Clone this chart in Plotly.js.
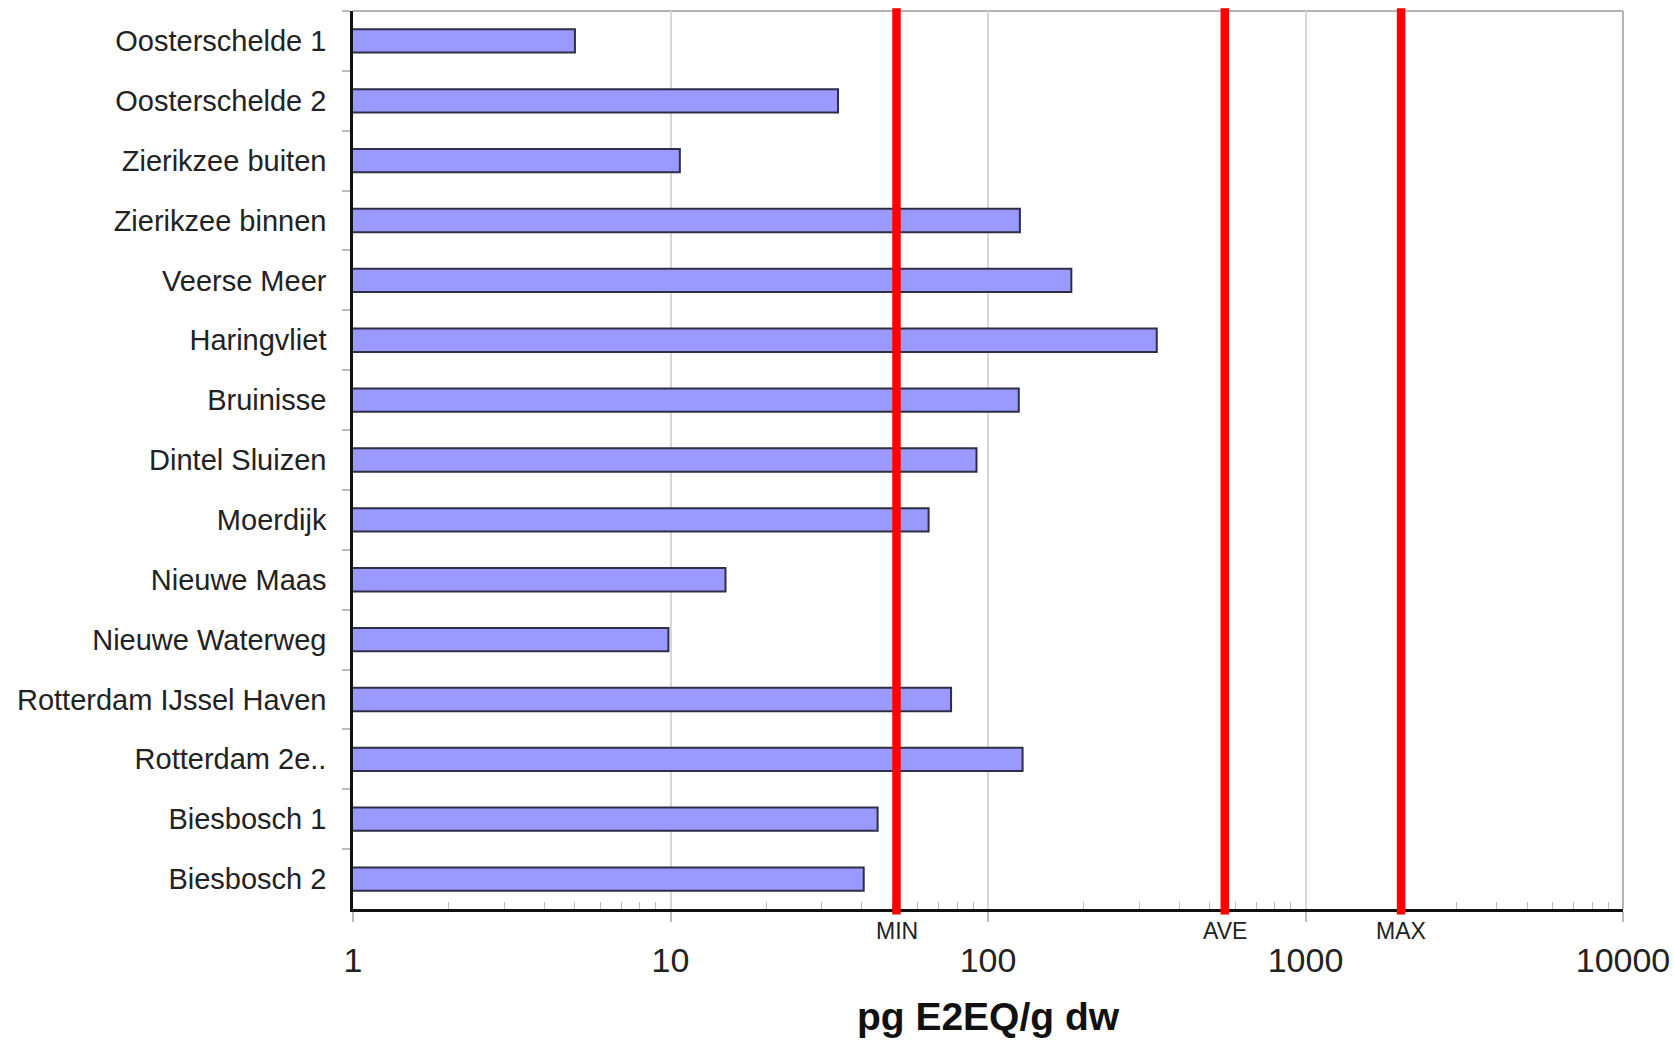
<!DOCTYPE html>
<html>
<head>
<meta charset="utf-8">
<script src="https://cdn.plot.ly/plotly-3.0.1.min.js"></script>
<style>
  html, body { margin: 0; padding: 0; background: #ffffff; }
  #chart { width: 1674px; height: 1040px; }
</style>
</head>
<body>
<div id="chart"></div>
<script>
// ---- data ----
const sites = [
  "Oosterschelde 1", "Oosterschelde 2", "Zierikzee buiten", "Zierikzee binnen",
  "Veerse Meer", "Haringvliet", "Bruinisse", "Dintel Sluizen", "Moerdijk",
  "Nieuwe Maas", "Nieuwe Waterweg", "Rotterdam IJssel Haven", "Rotterdam 2e..",
  "Biesbosch 1", "Biesbosch 2"
];
const values = [5.0, 33.7, 10.7, 126, 183, 340, 125, 92, 65, 14.9, 9.85, 76.5, 128.5, 44.9, 40.6];

const refLabels = ["MIN", "AVE", "MAX"];
const refValues = [51.5, 557, 2000];

const xTickVals = [1, 10, 100, 1000, 10000];
const xTickText = ["1", "10", "100", "1000", "10000"];
const minorDigits = [2, 3, 4, 5, 6, 7, 8, 9];

// minor tick positions per decade (axis structure)
const minorVals = [];
[1, 10, 100, 1000].forEach(d => minorDigits.forEach(m => minorVals.push(d * m)));

const FONT = "Liberation Sans, Arial, Helvetica, sans-serif";

const barTrace = {
  type: "bar",
  orientation: "h",
  y: sites,
  x: values,
  marker: { color: "#9999ff", line: { color: "#2e2e44", width: 2 } },
  width: 0.39,
  hoverinfo: "x+y",
  showlegend: false
};

const shapes = [];
refValues.forEach(v => {
  shapes.push({
    type: "line", xref: "x", yref: "paper",
    x0: v, x1: v, y0: -0.006, y1: 1.003,
    line: { color: "#ff0000", width: 8.5 },
    layer: "above"
  });
});
// light grey top and right frame
shapes.push({ type: "line", xref: "paper", yref: "paper", x0: 0, x1: 1, y0: 1, y1: 1,
  line: { color: "#b4b4b4", width: 2 }, layer: "below" });
shapes.push({ type: "line", xref: "paper", yref: "paper", x0: 1, x1: 1, y0: 0, y1: 1,
  line: { color: "#b4b4b4", width: 2 }, layer: "below" });

const annotations = refLabels.map((t, i) => ({
  text: t,
  xref: "x", yref: "paper",
  x: Math.log10(refValues[i]),
  y: 0, yshift: -22,
  showarrow: false,
  font: { family: FONT, size: 23, color: "#222" },
  xanchor: "center", yanchor: "middle"
}));

const layout = {
  width: 1674,
  height: 1040,
  paper_bgcolor: "#ffffff",
  plot_bgcolor: "#ffffff",
  margin: { l: 353, r: 51, t: 11, b: 131 },
  bargap: 0.61,
  showlegend: false,
  font: { family: FONT, color: "#222" },
  xaxis: {
    type: "log",
    range: [0, 4],
    tickvals: xTickVals,
    ticktext: xTickText,
    tickfont: { family: FONT, size: 34, color: "#222" },
    ticks: "outside",
    ticklen: 10,
    tickwidth: 1.5,
    tickcolor: "#bbbbbb",
    ticklabelstandoff: 9,
    showgrid: true,
    gridcolor: "#d8d8d8",
    gridwidth: 1.5,
    showline: true,
    linecolor: "#111111",
    linewidth: 2.5,
    zeroline: false,
    minor: {
      tickvals: minorVals,
      ticks: "inside",
      ticklen: 7,
      tickwidth: 1.2,
      tickcolor: "#bbbbbb",
      showgrid: false
    },
    title: {
      text: "pg E2EQ/g dw",
      font: { family: FONT, size: 39, color: "#111", weight: "bold" },
      standoff: 26
    },
    fixedrange: true
  },
  yaxis: {
    type: "category",
    autorange: "reversed",
    tickson: "boundaries",
    ticks: "outside",
    ticklen: 8,
    tickwidth: 1.5,
    tickcolor: "#bbbbbb",
    tickfont: { family: FONT, size: 29, color: "#222" },
    ticklabelstandoff: 18,
    showgrid: false,
    showline: true,
    linecolor: "#111111",
    linewidth: 2.5,
    zeroline: false,
    fixedrange: true
  },
  shapes: shapes,
  annotations: annotations
};

Plotly.newPlot("chart", [barTrace], layout, { displayModeBar: false, responsive: false });
</script>
</body>
</html>
